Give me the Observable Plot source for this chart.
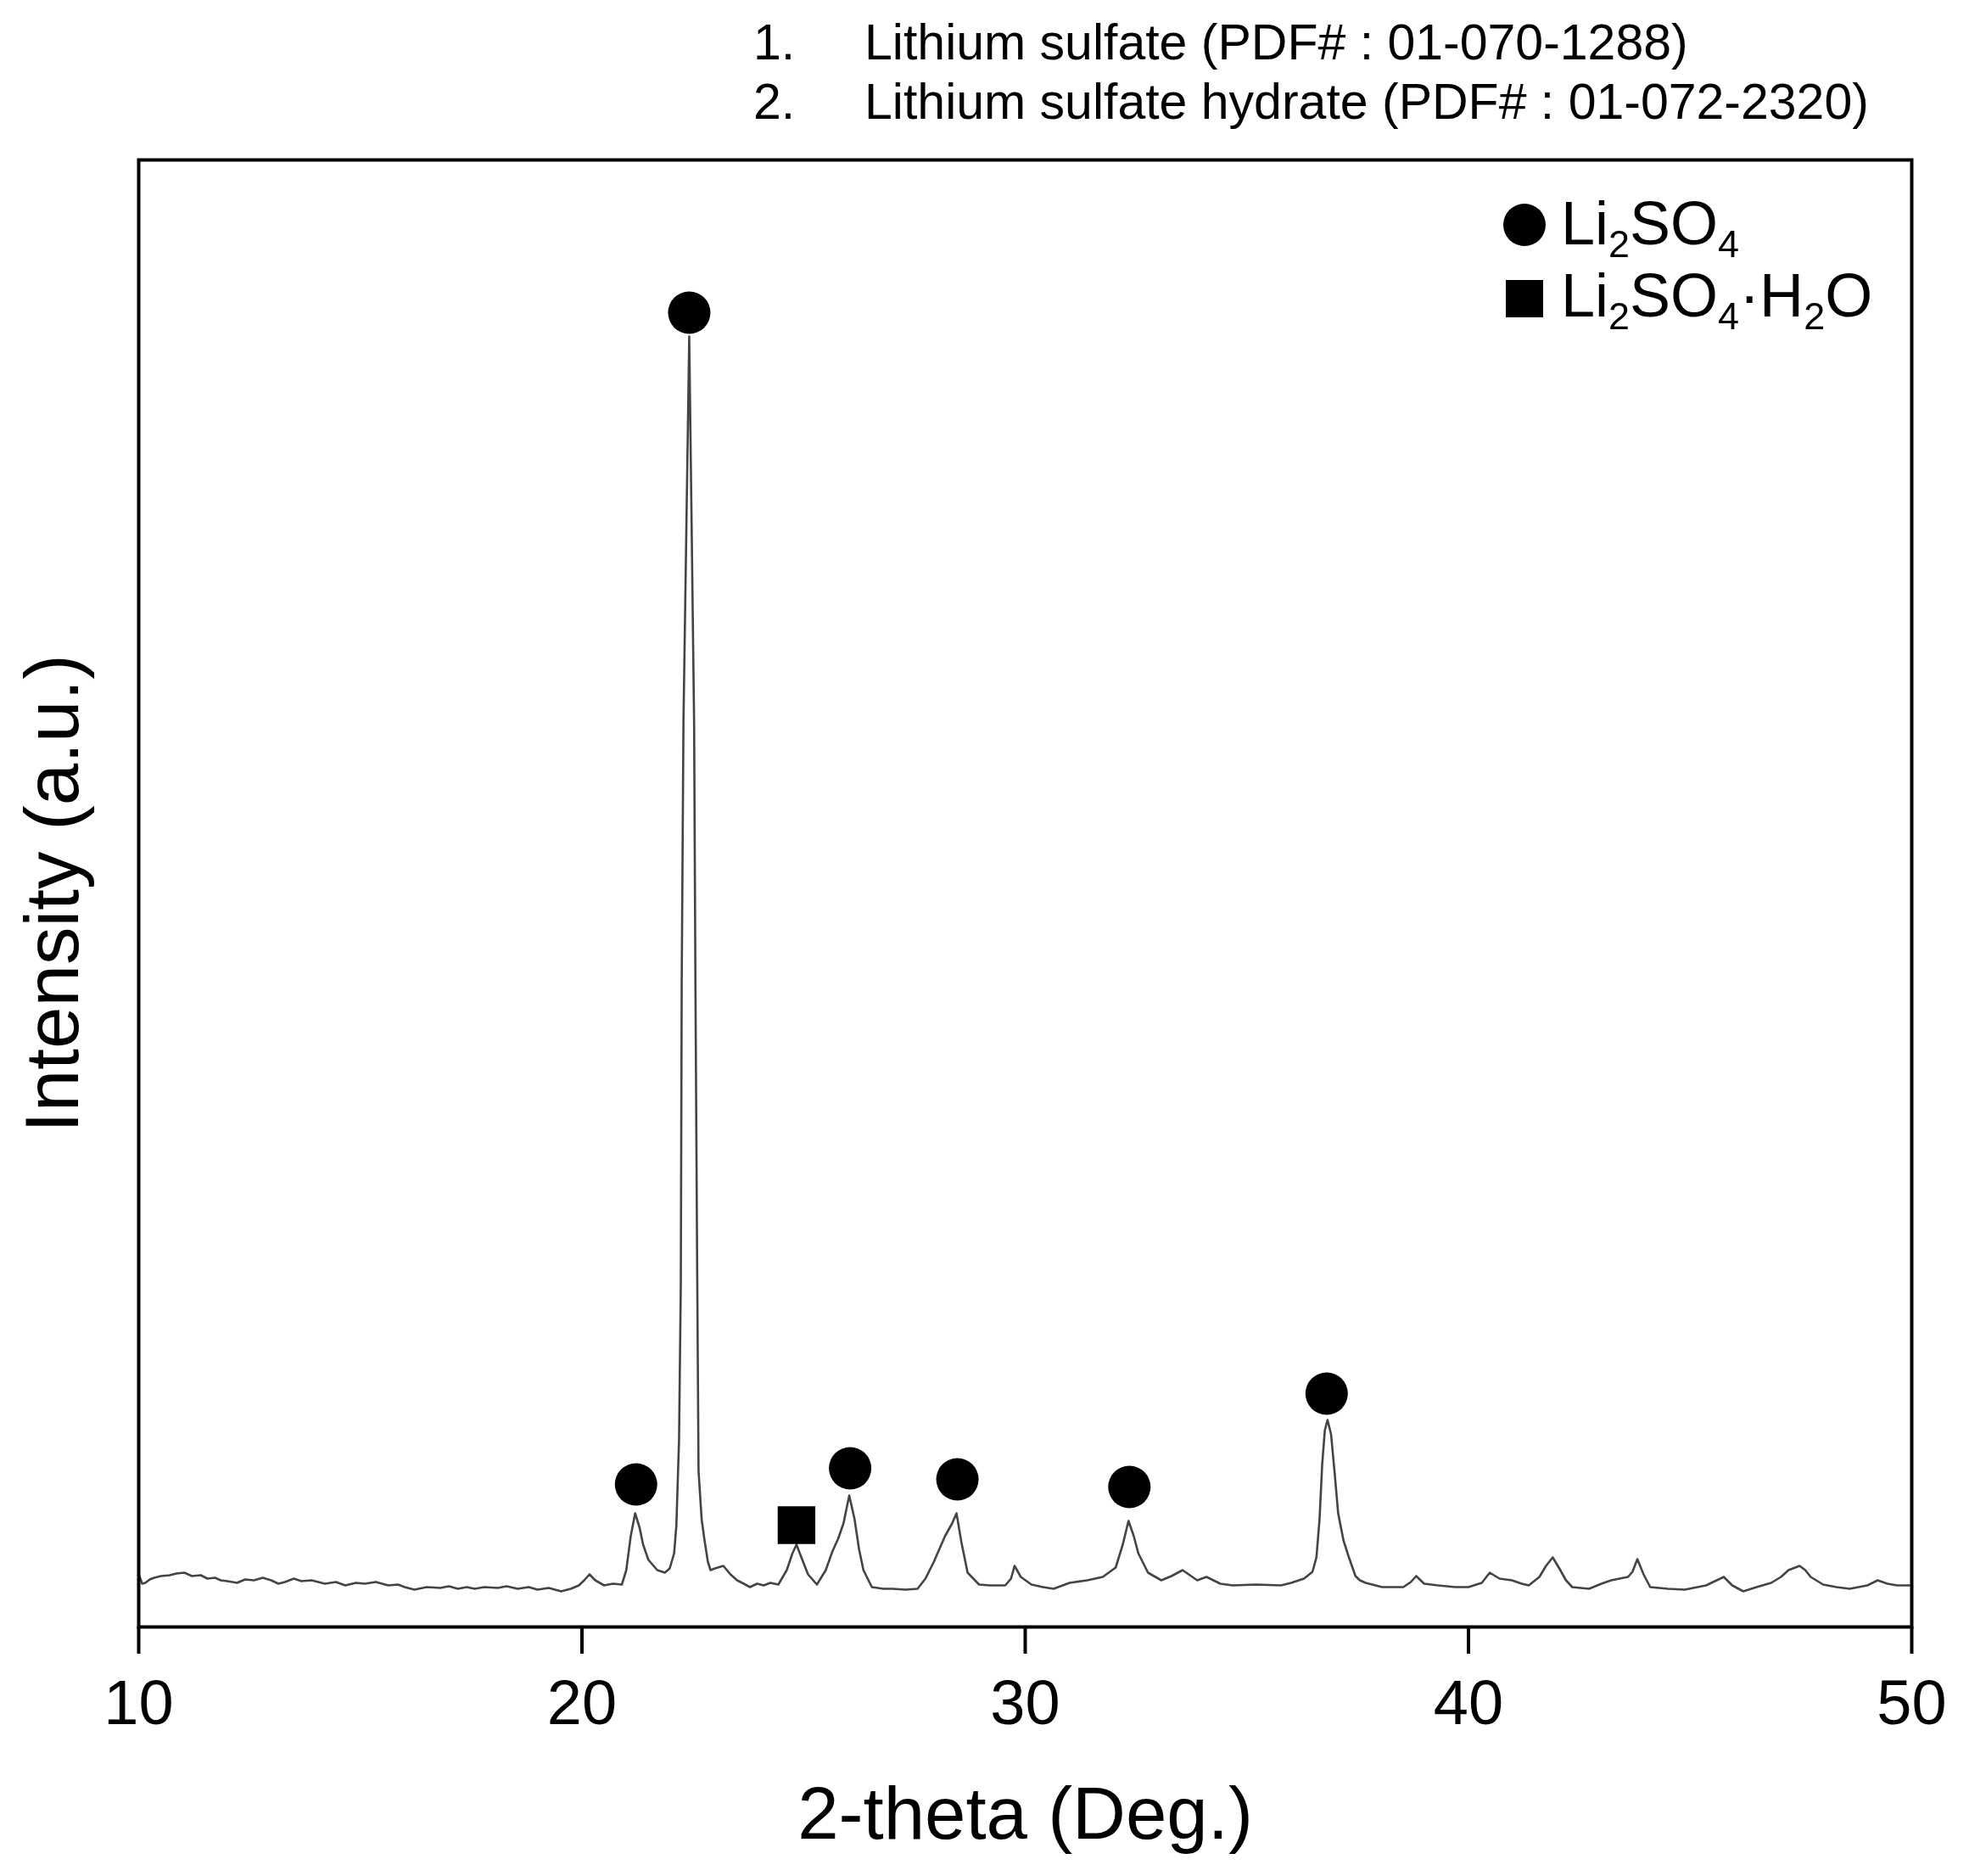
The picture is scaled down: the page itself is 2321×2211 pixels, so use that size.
<!DOCTYPE html>
<html>
<head>
<meta charset="utf-8">
<script src="https://cdn.jsdelivr.net/npm/d3@7"></script>
<script src="https://cdn.jsdelivr.net/npm/@observablehq/plot@0.6"></script>
<style>
  body { margin: 0; background: #fff; font-family: "Liberation Sans", Arial, sans-serif; color: #000; }
  #wrap { position: relative; width: 2321px; height: 2211px; overflow: hidden; }
  #header { position: relative; height: 186px; }
  .hl { position: absolute; left: 888px; font-size: 59px; line-height: 59px; white-space: nowrap; }
  .hl .num { display: inline-block; width: 131px; }
  #chart svg { display: block; }
  #legend { position: absolute; left: 0; top: 0; pointer-events: none; will-change: transform; }
</style>
</head>
<body>
<div id="wrap">
  <div id="header"></div>
  <div id="chart"></div>
  <svg id="legend" width="2321" height="2211"></svg>
</div>
<script>
// ---- data ----
const references = [
  "Lithium sulfate (PDF# : 01-070-1288)",
  "Lithium sulfate hydrate (PDF# : 01-072-2320)"
];

const twoTheta = [
  10.00, 10.08, 10.15, 10.25, 10.35, 10.5, 10.7, 10.85, 11.03, 11.2, 11.4, 11.55, 11.72, 11.85,
  12.0, 12.22, 12.4, 12.6, 12.8, 12.99, 13.15, 13.3, 13.5, 13.67, 13.9, 14.2, 14.45, 14.66, 14.9,
  15.1, 15.35, 15.63, 15.85, 16.0, 16.22, 16.5, 16.8, 17.0, 17.2, 17.4, 17.58, 17.8, 18.1, 18.3,
  18.55, 18.8, 19.0, 19.25, 19.53, 19.75, 19.93, 20.05, 20.17, 20.3, 20.5, 20.7, 20.9, 21.0,
  21.1, 21.2, 21.3, 21.38, 21.5, 21.7, 21.87, 21.98, 22.08, 22.13, 22.19, 22.23, 22.25, 22.29,
  22.42, 22.53, 22.56, 22.6, 22.63, 22.7, 22.76, 22.84, 22.9, 23.0, 23.19, 23.35, 23.5, 23.65,
  23.79, 23.95, 24.1, 24.25, 24.43, 24.62, 24.75, 24.84, 24.95, 25.1, 25.3, 25.5, 25.65, 25.78,
  25.9, 26.03, 26.15, 26.25, 26.35, 26.54, 26.8, 27.0, 27.3, 27.57, 27.75, 27.94, 28.19, 28.35,
  28.45, 28.56, 28.7, 28.96, 29.2, 29.55, 29.68, 29.76, 29.9, 30.14, 30.4, 30.64, 31.0, 31.4,
  31.75, 32.04, 32.2, 32.33, 32.45, 32.55, 32.77, 33.07, 33.3, 33.55, 33.88, 34.09, 34.4, 34.68,
  35.2, 35.77, 36.0, 36.29, 36.48, 36.57, 36.64, 36.7, 36.76, 36.82, 36.9, 36.98, 37.06, 37.18,
  37.29, 37.45, 37.55, 37.68, 38.05, 38.53, 38.7, 38.82, 39.0, 39.31, 39.7, 40.0, 40.3, 40.48,
  40.7, 40.98, 41.2, 41.36, 41.6, 41.75, 41.9, 42.05, 42.2, 42.34, 42.72, 43.0, 43.22, 43.6,
  43.7, 43.81, 43.95, 44.1, 44.5, 44.88, 45.36, 45.6, 45.76, 45.95, 46.2, 46.5, 46.83, 47.05,
  47.22, 47.47, 47.6, 47.72, 48.0, 48.3, 48.6, 49.0, 49.23, 49.45, 49.67, 50.0
];

const intensity = [
  124, 102, 104, 112, 116, 120, 122, 126, 128, 120, 122, 114, 116, 110,
  108, 104, 112, 110, 116, 110, 102, 106, 114, 108, 110, 102, 106, 98, 104,
  102, 106, 98, 100, 94, 88, 94, 92, 96, 90, 94, 90, 94, 92, 96,
  90, 94, 88, 92, 84, 90, 98, 110, 124, 110, 98, 102, 100, 134,
  214, 268, 234, 194, 158, 134, 128, 138, 174, 240, 440, 808, 1514, 2134,
  3042, 2134, 1514, 834, 368, 254, 208, 154, 134, 138, 144, 124, 110, 102,
  94, 102, 98, 104, 100, 134, 174, 194, 164, 124, 100, 134, 178, 208,
  244, 310, 254, 184, 134, 94, 90, 90, 88, 90, 114, 154, 214, 244,
  268, 200, 128, 100, 98, 98, 114, 144, 118, 100, 94, 90, 104, 110,
  118, 140, 194, 250, 214, 174, 128, 110, 120, 134, 110, 118, 102, 98,
  100, 98, 104, 114, 130, 164, 254, 384, 464, 488, 454, 364, 268, 204,
  168, 120, 110, 104, 94, 94, 106, 120, 102, 98, 94, 94, 104, 128,
  114, 110, 102, 98, 118, 144, 164, 138, 110, 94, 90, 102, 110, 118,
  130, 160, 124, 94, 90, 88, 98, 110, 118, 98, 84, 94, 104, 118,
  134, 144, 134, 118, 100, 94, 90, 98, 110, 102, 98, 98
];

// phase markers placed above identified reflections
const markerTheta = [21.22, 22.42, 26.05, 28.47, 32.35, 36.80, 24.84];
const markerIntensity = [336, 3098, 374, 348, 330, 550, 240];
const markerPhase = ["Li2SO4", "Li2SO4", "Li2SO4", "Li2SO4", "Li2SO4", "Li2SO4", "Li2SO4·H2O"];

const phases = ["Li2SO4", "Li2SO4·H2O"];
// label segments: [text, isSubscript]
const phaseLabelParts = [
  [["Li", 0], ["2", 1], ["SO", 0], ["4", 1]],
  [["Li", 0], ["2", 1], ["SO", 0], ["4", 1], ["·H", 0], ["2", 1], ["O", 0]]
];
const phaseSymbols = ["circle", "square"];

const xTicks = [10, 20, 30, 40, 50];
const xDomain = [10, 50];
const yDomain = [0, 3458];
const xTitle = "2-theta (Deg.)";
const yTitle = "Intensity (a.u.)";

// ---- header ----
const header = document.getElementById("header");
references.forEach((r, i) => {
  const d = document.createElement("div");
  d.className = "hl";
  d.style.top = (21 + i * 70) + "px";
  d.innerHTML = `<span class="num">${i + 1}.</span><span>${r}</span>`;
  header.appendChild(d);
});

// ---- chart ----
const pattern = twoTheta.map((t, i) => ({t, c: intensity[i]}));
const markers = markerTheta.map((t, i) => ({t, c: markerIntensity[i], phase: markerPhase[i]}));

const chart = Plot.plot({
  width: 2321,
  height: 2025,
  marginTop: 2,
  marginBottom: 294,
  marginLeft: 163,
  marginRight: 68,
  style: {fontFamily: "'Liberation Sans', Arial, sans-serif", color: "#000", background: "#fff"},
  x: {domain: xDomain},
  y: {domain: yDomain, axis: null},
  symbol: {domain: phases, range: phaseSymbols},
  marks: [
    Plot.line(pattern, {x: "t", y: "c", stroke: "#444", strokeWidth: 2.6}),
    Plot.dot(markers, {x: "t", y: "c", symbol: "phase", r: 25, fill: "#000", stroke: "none"}),
    Plot.frame({stroke: "#000", strokeWidth: 4}),
    Plot.axisX(xTicks, {tickSize: 32, tickPadding: 30, fontSize: 74, strokeWidth: 4, label: null}),
    Plot.text([xTitle], {frameAnchor: "bottom", dy: 249, fontSize: 87, fill: "#000"}),
    Plot.text([yTitle], {frameAnchor: "left", textAnchor: "middle", rotate: -90, dx: -100, fontSize: 89, fill: "#000"})
  ]
});
document.getElementById("chart").appendChild(chart);

// ---- legend (inside the frame, top right) ----
const lg = d3.select("#legend");
phases.forEach((p, i) => {
  const cy = 265 + i * 87;
  if (phaseSymbols[i] === "circle") {
    lg.append("circle").attr("cx", 1797).attr("cy", cy).attr("r", 25).attr("fill", "#000");
  } else {
    lg.append("rect").attr("x", 1797 - 22).attr("y", cy - 22).attr("width", 44).attr("height", 44).attr("fill", "#000");
  }
  const t = lg.append("text")
    .attr("x", 1840).attr("y", 288 + i * 85)
    .attr("font-family", "'Liberation Sans', Arial, sans-serif")
    .attr("font-size", 72).attr("fill", "#000");
  let prevSub = 0;
  phaseLabelParts[i].forEach(([s, sub]) => {
    const shift = (sub - prevSub) * 15;
    t.append("tspan").attr("dy", shift).attr("font-size", sub ? 45 : 72).attr("fill", "#000").text(s);
    prevSub = sub;
  });
});
</script>
</body>
</html>
